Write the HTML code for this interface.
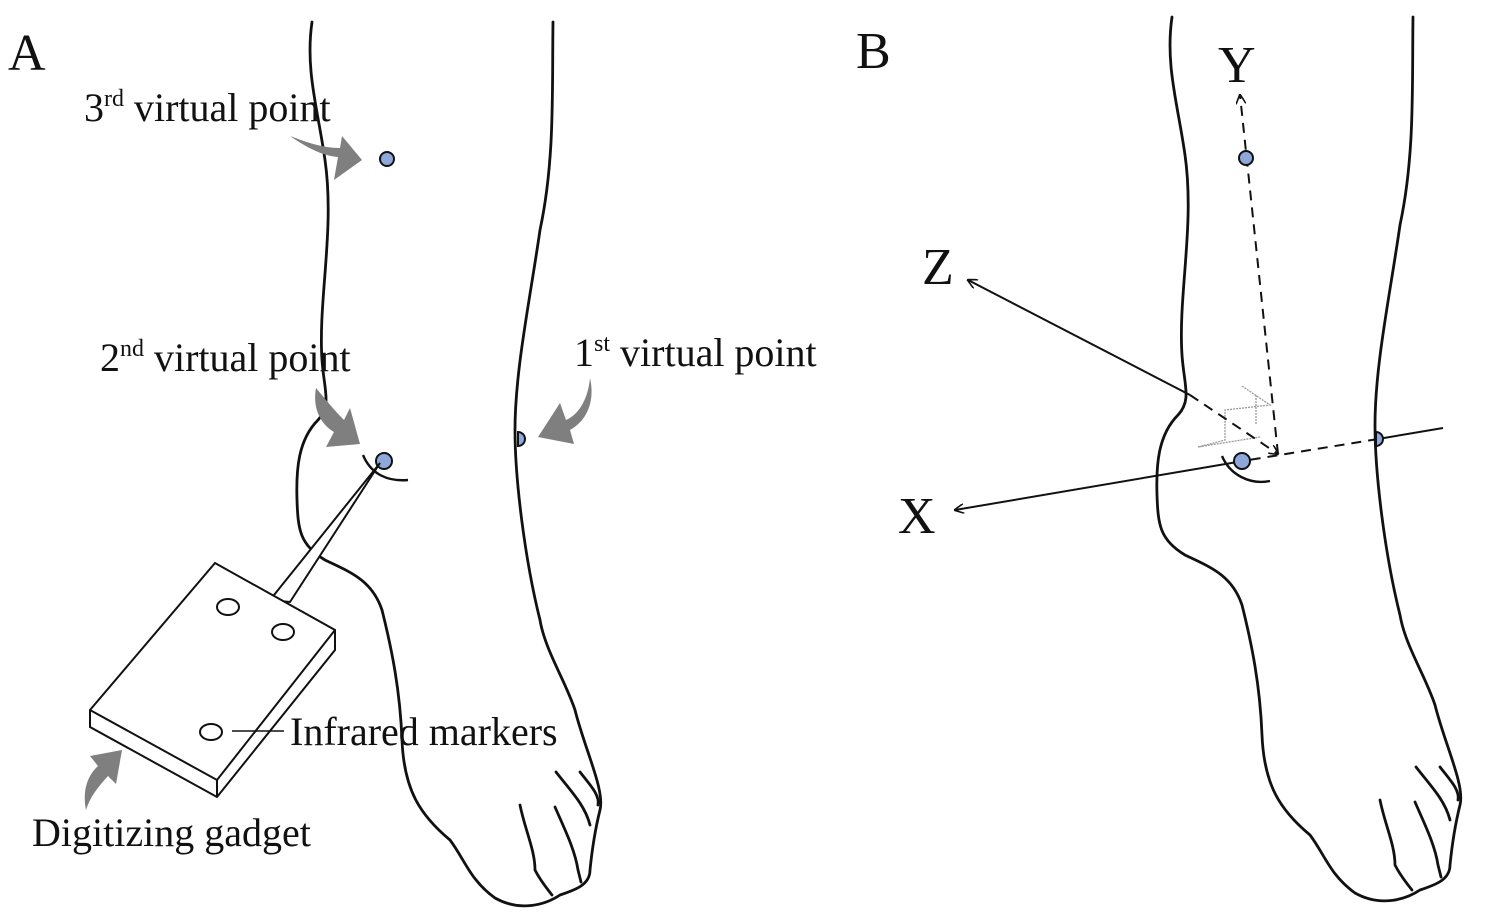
<!DOCTYPE html>
<html><head><style>
html,body{margin:0;padding:0;background:#fff;}
svg{display:block}
text{font-family:"Liberation Serif",serif;fill:#111}
</style></head><body>
<svg width="1500" height="914" viewBox="0 0 1500 914" xmlns="http://www.w3.org/2000/svg">
<defs>
<g id="leg" fill="none" stroke="#111" stroke-width="2.8" stroke-linecap="round">
<path d="M312,22 C305,70 318,110 325,160 C335,230 318,300 322,360 C324,390 332,405 318,420 C298,440 296,470 297,500 C298,530 300,545 325,560 C350,572 372,580 382,610 C392,650 400,690 402,740 C404,790 420,815 450,840 C465,860 470,880 495,898 C520,912 545,905 560,895 C575,890 590,885 590,870 C592,850 595,830 600,810 C605,790 585,750 575,710 C565,680 545,650 540,620 C525,560 515,480 515,430 C515,370 530,300 540,230 C555,160 552,90 553,22"/>
<path d="M520,805 C525,830 535,850 535,870 C540,880 548,890 552,895"/>
<path d="M555,807 C565,830 575,850 578,870 L581,882"/>
<path d="M556,772 C570,790 585,805 590,825"/>
<path d="M580,772 C590,785 600,795 598,805"/>
</g>
<marker id="ah" markerWidth="10" markerHeight="10" refX="9" refY="5" orient="auto" markerUnits="userSpaceOnUse"><path d="M0,0 L10,5 L0,10" fill="none" stroke="#111" stroke-width="1.6"/></marker>
</defs>

<use href="#leg"/>
<use href="#leg" transform="translate(860,-5)"/>

<!-- A labels -->
<text x="8" y="70" font-size="52">A</text>
<text x="84" y="121" font-size="40">3<tspan font-size="24" dy="-15">rd</tspan><tspan dy="15"> virtual point</tspan></text>
<text x="100" y="371" font-size="40">2<tspan font-size="24" dy="-15">nd</tspan><tspan dy="15"> virtual point</tspan></text>
<text x="574" y="366" font-size="40">1<tspan font-size="24" dy="-15">st</tspan><tspan dy="15"> virtual point</tspan></text>
<text x="290" y="745" font-size="40">Infrared markers</text>
<text x="32" y="846" font-size="40">Digitizing gadget</text>

<!-- grey curved arrows -->
<g fill="#7f7f7f" stroke="none">
<path d="M290,136 C310,150 325,156 338,157 L334,180 L362,160 L342,136 L340,148 C322,148 306,142 290,136 Z"/>
<path d="M316,388 C312,410 322,425 334,432 L326,447 L360,444 L350,408 L344,420 C334,410 326,400 316,388 Z"/>
<path d="M590,378 C588,400 578,415 566,420 L560,403 L538,437 L574,444 L570,430 C588,420 595,400 590,378 Z"/>
<path d="M86,810 C82,790 88,775 98,766 L90,756 L122,750 L116,784 L108,776 C98,787 90,797 86,810 Z"/>
</g>

<!-- points A -->
<g fill="#8fa8dc" stroke="#111" stroke-width="2">
<circle cx="387" cy="159" r="7"/>
<circle cx="384" cy="461" r="8"/>
<path d="M518,432 A7,7 0 0 1 518,446 Z"/>
</g>
<path d="M363,455 C370,472 385,482 408,480" fill="none" stroke="#111" stroke-width="2.4"/>

<!-- gadget -->
<g fill="#fff" stroke="#111" stroke-width="2">
<path d="M270,600 L380,463 L290,602 Z"/>
<path d="M90,710 L215,563 L335,630 L335,650 L217,797 L90,727 Z"/>
<path d="M90,710 L217,780 L335,630 M217,780 L217,797"/>
<ellipse cx="228" cy="607" rx="11" ry="8"/>
<ellipse cx="283" cy="632" rx="11" ry="8"/>
<ellipse cx="211" cy="732" rx="11" ry="8"/>
</g>
<line x1="232" y1="731" x2="284" y2="731" stroke="#111" stroke-width="1.5"/>

<!-- B -->
<text x="856" y="68" font-size="52">B</text>
<text x="1218" y="82" font-size="52">Y</text>
<text x="922" y="284" font-size="52">Z</text>
<text x="898" y="533" font-size="52">X</text>

<g stroke="#999" stroke-width="1.3" fill="none" stroke-dasharray="2,1">
<path d="M1242,386 L1270,405 L1225,410 L1225,440 L1198,447 L1260,437 M1256,395 L1256,425"/>
</g>
<g stroke="#111" stroke-width="2" fill="none">
<line x1="1443" y1="428" x2="1378" y2="439"/>
<line x1="1378" y1="439" x2="1255" y2="459" stroke-dasharray="10,7"/>
<line x1="1255" y1="459" x2="955" y2="510" marker-end="url(#ah)"/>
<line x1="1190" y1="395" x2="968" y2="280" marker-end="url(#ah)"/>
<line x1="1190" y1="395" x2="1278" y2="454" stroke-dasharray="10,7" marker-end="url(#ah)"/>
<line x1="1278" y1="454" x2="1240" y2="95" stroke-dasharray="10,7" marker-end="url(#ah)"/>
</g>
<g fill="#8fa8dc" stroke="#111" stroke-width="2">
<circle cx="1246" cy="158" r="7"/>
<circle cx="1242" cy="461" r="8"/>
<path d="M1376,432 A7,7 0 0 1 1376,446 Z"/>
</g>
<path d="M1222,456 C1230,475 1250,485 1270,481" fill="none" stroke="#111" stroke-width="2.4"/>
</svg>
</body></html>
